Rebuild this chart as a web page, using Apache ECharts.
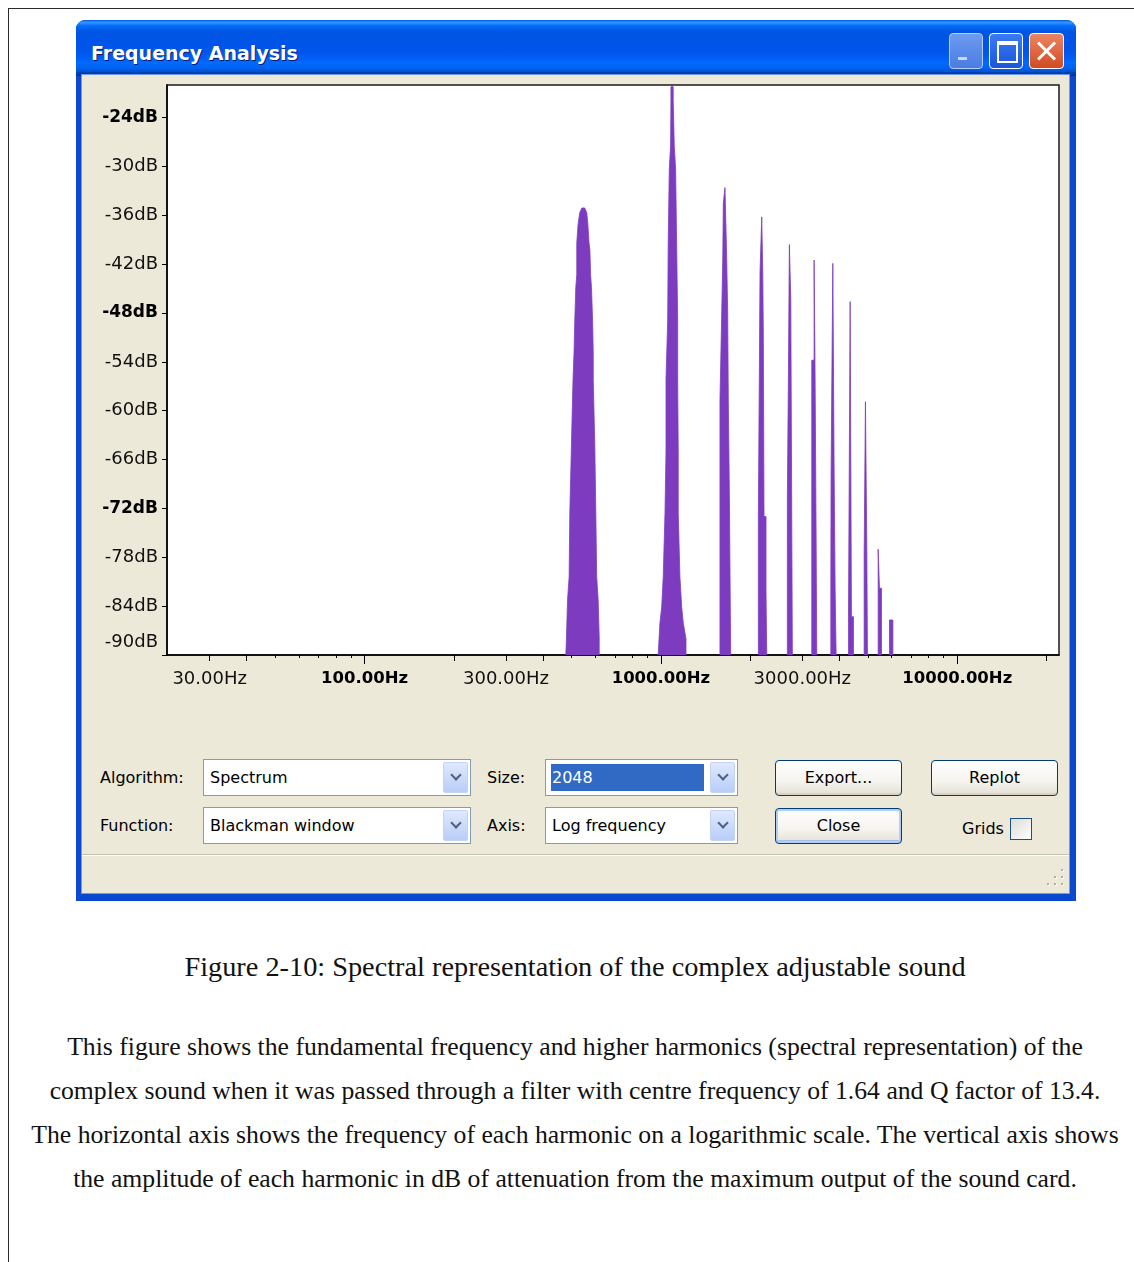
<!DOCTYPE html>
<html lang="en">
<head>
<meta charset="utf-8">
<title>Frequency Analysis</title>
<script src="https://cdn.jsdelivr.net/npm/echarts@6.0.0/dist/echarts.min.js"></script>
<style>
  html, body { margin: 0; padding: 0; background: #fff; }
  body { position: relative; width: 1134px; height: 1262px; overflow: hidden; font-family: "DejaVu Sans", sans-serif; color: #000; }
  .abs { position: absolute; }
  #frame { left: 8px; top: 8px; width: 1300px; height: 1400px; border-top: 1px solid #2b2b2b; border-left: 1px solid #2b2b2b; }
  #win { left: 76px; top: 20px; width: 1000px; height: 881px; border-radius: 9px 9px 0 0; overflow: hidden; background: #0b48d2; }
  #titlebar { left: 0; top: 0; width: 1000px; height: 56px;
    background: linear-gradient(to bottom, #0058ee 0%, #3593ff 4%, #288eff 6%, #127dff 8%, #036ffc 10%, #0262ee 14%, #0057e5 20%, #0054e3 24%, #0055eb 56%, #005bf5 66%, #026afe 76%, #0062ef 86%, #0052d6 92%, #0040ab 94%, #003092 100%); }
  #title { left: 15px; top: 21px; font: bold 19px/24px "DejaVu Sans", sans-serif; color: #fff; text-shadow: 1px 1px 0 #0a1a6a; white-space: nowrap; }
  .tbtn { position: absolute; top: 13px; width: 34px; height: 36px; box-sizing: border-box; border: 1px solid #fff; border-radius: 4px; }
  #bmin { left: 873px; background: linear-gradient(#6d9bf0, #4a7ce3); border-color: #b8cdf6; }
  #bmin i { position: absolute; left: 8px; top: 23px; width: 9px; height: 3px; background: #c9d8f8; }
  #bmax { left: 913px; background: linear-gradient(#3a7af5, #1b56da); }
  #bmax i { position: absolute; left: 7px; top: 7px; width: 17px; height: 16px; border: 2px solid #fff; border-top-width: 4px; }
  #bclose { left: 953px; width: 35px; background: linear-gradient(#ec8563, #d24a22); }
  #bclose i { position: absolute; left: 15px; top: 5px; width: 3px; height: 24px; background: #fff; }
  #bclose i.a { transform: rotate(45deg); }
  #bclose i.b { transform: rotate(-45deg); }
  #client { left: 82px; top: 75px; width: 987px; height: 818px; background: #ece9d8; box-shadow: 0 0 0 1px #6f98ee; }
  #chart { left: 0; top: 0; width: 1134px; height: 720px; z-index: 2; }
  .lbl { position: absolute; font-size: 16px; line-height: 20px; white-space: nowrap; z-index: 3; }
  .combo { position: absolute; background: #fff; border: 1px solid #7f9db9; box-sizing: border-box; z-index: 3; }
  .combo .t { position: absolute; left: 6px; top: 8px; font-size: 16px; line-height: 20px; white-space: nowrap; }
  .combo .sel { position: absolute; left: 5px; top: 4px; width: 153px; height: 27px; background: #316ac5; }
  .combo .sel span { position: absolute; left: 1px; top: 4px; color: #fff; font-size: 16px; line-height: 20px; }
  .combo .dd { position: absolute; right: 2px; top: 2px; bottom: 2px; width: 25px; box-sizing: border-box;
    background: linear-gradient(#dfe9fe, #b9cdf7); border: 1px solid #c3d3f7; border-radius: 2px; }
  .combo .dd i { position: absolute; left: 8px; top: 8px; width: 6px; height: 6px; border-right: 2px solid #4d6185; border-bottom: 2px solid #4d6185; transform: rotate(45deg); }
  .xbtn { position: absolute; width: 127px; height: 36px; box-sizing: border-box; border: 1px solid #003c74; border-radius: 4px;
    background: linear-gradient(#ffffff 0%, #f5f4ef 60%, #e4e0d4 100%); font-size: 16px; line-height: 33px; text-align: center; z-index: 3;
    box-shadow: inset 0 -2px 0 #d8d2c6; }
  .xbtn.def { box-shadow: inset 0 0 0 2px #b4cdf4, inset 0 -3px 0 #a7c1ee; }
  #chk { left: 1010px; top: 818px; width: 22px; height: 22px; box-sizing: border-box; border: 1px solid #1c5180; background: linear-gradient(135deg, #dcdcd7, #fff); z-index: 3; }
  #sep1 { left: 82px; top: 854px; width: 987px; height: 1px; background: #c5c2b2; z-index: 3; }
  #sep2 { left: 82px; top: 855px; width: 987px; height: 1px; background: #fff; z-index: 3; }
  .dot { position: absolute; width: 2px; height: 2px; background: #b3b09f; box-shadow: 1px 1px 0 #fff; z-index: 3; }
  #caption { left: 0; top: 950px; width: 1150px; text-align: center; font: 28.3px/34px "Liberation Serif", serif; color: #111; white-space: nowrap; }
  #para { left: 0; top: 1025px; width: 1150px; text-align: center; font: 25.7px/44px "Liberation Serif", serif; color: #111; white-space: nowrap; }
</style>
</head>
<body>
<div id="frame" class="abs"></div>

<div id="win" class="abs">
  <div id="titlebar" class="abs"></div>
  <div id="title" class="abs">Frequency Analysis</div>
  <div id="bmin" class="tbtn"><i></i></div>
  <div id="bmax" class="tbtn"><i></i></div>
  <div id="bclose" class="tbtn"><i class="a"></i><i class="b"></i></div>
</div>
<div id="client" class="abs"></div>

<div id="chart" class="abs"></div>

<div class="lbl" style="left:100px;top:768px">Algorithm:</div>
<div class="combo" style="left:203px;top:759px;width:268px;height:37px"><span class="t">Spectrum</span><div class="dd"><i></i></div></div>
<div class="lbl" style="left:487px;top:768px">Size:</div>
<div class="combo" style="left:545px;top:759px;width:193px;height:37px"><div class="sel"><span>2048</span></div><div class="dd"><i></i></div></div>
<div class="xbtn" style="left:775px;top:760px">Export...</div>
<div class="xbtn" style="left:931px;top:760px">Replot</div>

<div class="lbl" style="left:100px;top:816px">Function:</div>
<div class="combo" style="left:203px;top:807px;width:268px;height:37px"><span class="t">Blackman window</span><div class="dd"><i></i></div></div>
<div class="lbl" style="left:487px;top:816px">Axis:</div>
<div class="combo" style="left:545px;top:807px;width:193px;height:37px"><span class="t">Log frequency</span><div class="dd"><i></i></div></div>
<div class="xbtn def" style="left:775px;top:808px">Close</div>
<div class="lbl" style="left:962px;top:819px">Grids</div>
<div id="chk" class="abs"></div>

<div id="sep1" class="abs"></div>
<div id="sep2" class="abs"></div>
<div class="dot" style="left:1061px;top:869px"></div>
<div class="dot" style="left:1061px;top:876px"></div>
<div class="dot" style="left:1054px;top:876px"></div>
<div class="dot" style="left:1061px;top:883px"></div>
<div class="dot" style="left:1054px;top:883px"></div>
<div class="dot" style="left:1047px;top:883px"></div>

<div id="caption" class="abs">Figure 2-10: Spectral representation of the complex adjustable sound</div>
<div id="para" class="abs">This figure shows the fundamental frequency and higher harmonics (spectral representation) of the<br>complex sound when it was passed through a filter with centre frequency of 1.64 and Q factor of 13.4.<br>The horizontal axis shows the frequency of each harmonic on a logarithmic scale. The vertical axis shows<br>the amplitude of each harmonic in dB of attenuation from the maximum output of the sound card.</div>

<script>
// Frequency range: first FFT bin (44100 / 2048 Hz) up to the Nyquist frequency
const FREQ_MIN = 21.533;
const FREQ_MAX = 22050;
const DB_MIN = -90;
const DB_MAX = -20;

// Vertical axis ticks (dB)
const dbTicks = [-24, -30, -36, -42, -48, -54, -60, -66, -72, -78, -84, -90];
const dbBold = [-24, -48, -72];

// Horizontal axis labels and tick marks (Hz)
const freqLabels = [30, 100, 300, 1000, 3000, 10000];
const freqBold = [100, 1000, 10000];
const freqTicksLong = [100, 1000, 10000];
const freqTicksMid = [30, 40, 200, 300, 400, 2000, 3000, 4000, 20000];
const freqTicksShort = [50, 60, 70, 80, 90, 500, 600, 700, 800, 900, 5000, 6000, 7000, 8000, 9000];

// Spectrum outline of each harmonic: [frequency Hz, level dB]
const harmonic1 = [[477.5, -90], [480, -87.8], [484, -83.2], [490, -80.4], [492.6, -72.6], [499, -64], [505, -56.2], [509, -52.9],
  [512, -48.9], [516, -44.9], [520, -43.3], [520, -39.4], [525, -37.2], [532, -35.7], [541, -35.1], [553, -35.1], [562, -35.7],
  [567, -37.2], [572, -39.4], [576, -40.3], [579, -43.3], [583, -44.9], [588, -48.9], [591, -52.9], [591, -56.2], [598, -64],
  [603, -72.6], [607, -80.4], [614, -83.2], [619, -87.8], [619, -90]];
const harmonic2 = [[979, -90], [992, -86.1], [1006, -84.1], [1018, -80.4], [1032, -72.6], [1040, -65.2], [1040, -56.2], [1054, -48.9],
  [1058, -39.6], [1067, -30.4], [1078, -27.4], [1081, -21.8], [1081, -20.2], [1100, -20.2], [1100, -21.8], [1109, -27.4],
  [1121, -30.4], [1130, -39.6], [1139, -48.9], [1139, -56.2], [1144, -65.2], [1144, -72.6], [1159, -80.4], [1175, -84.1],
  [1185, -84.1], [1190, -86.1], [1215, -88], [1215, -90]];
const harmonic3 = [[1582, -90], [1582, -58.7], [1604, -58.7], [1604, -48], [1617, -48], [1617, -41.2], [1624, -41.2], [1624, -34.5],
  [1645, -34.5], [1645, -32.6], [1667, -32.6], [1667, -41.2], [1680, -41.2], [1680, -48], [1688, -48], [1688, -58.7],
  [1701, -58.7], [1701, -69.4], [1720, -69.4], [1720, -90]];
const harmonic4 = [[2132, -90], [2132, -73], [2160, -73], [2160, -42.9], [2189, -42.9], [2189, -36.2], [2206, -36.2], [2206, -42.9],
  [2216, -42.9], [2216, -50.5], [2228, -50.5], [2228, -73], [2263, -73], [2263, -82.4], [2276, -82.4], [2276, -90]];
const harmonic5 = [[2671, -90], [2671, -70.6], [2692, -70.6], [2692, -56.2], [2713, -56.2], [2713, -39.6], [2743, -39.6], [2743, -46.2],
  [2777, -46.2], [2777, -90]];
const harmonic6 = [[3229, -90], [3229, -53.8], [3288, -53.8], [3288, -41.5], [3314, -41.5], [3314, -56.2], [3340, -56.2], [3340, -75.5],
  [3357, -75.5], [3357, -90]];
const harmonic7 = [[3744, -90], [3744, -81.7], [3752, -81.7], [3752, -67.6], [3803, -67.6], [3803, -41.9], [3842, -41.9], [3842, -67.6],
  [3871, -67.6], [3871, -81.7], [3902, -81.7], [3902, -90]];
const harmonic8 = [[4295, -90], [4295, -85.3], [4351, -85.3], [4351, -46.6], [4395, -46.6], [4395, -85.3], [4464, -85.3], [4464, -90]];
const harmonic9 = [[4851, -90], [4851, -77.5], [4900, -77.5], [4900, -58.9], [4954, -58.9], [4954, -77.5], [4977, -77.5], [4977, -90]];
const harmonic10 = [[5409, -90], [5409, -77], [5464, -77], [5464, -81.8], [5550, -81.8], [5550, -90]];
const harmonic11 = [[5906, -90], [5906, -85.7], [6065, -85.7], [6065, -90]];

const harmonics = [harmonic1, harmonic2, harmonic3, harmonic4, harmonic5, harmonic6,
  harmonic7, harmonic8, harmonic9, harmonic10, harmonic11];

const SPECTRUM_COLOR = '#7d3cc0';
const lg = Math.log10;

// Extra bottom axes on the same grid, used only to draw ticks of different lengths
function tickAxis(values, len) {
  return {
    type: 'value', gridIndex: 0, position: 'bottom',
    min: lg(FREQ_MIN), max: lg(FREQ_MAX),
    axisLine: { show: false, onZero: false },
    axisTick: { show: true, customValues: values.map(lg), length: len, lineStyle: { color: '#000', width: 1 } },
    axisLabel: { show: false },
    splitLine: { show: false }
  };
}

const chart = echarts.init(document.getElementById('chart'), null, { renderer: 'canvas' });

const option = {
  backgroundColor: 'transparent',
  animation: false,
  grid: {
    left: 167, top: 85, width: 892, height: 570,
    show: true, backgroundColor: '#fff', borderColor: '#1a1a1a', borderWidth: 1.5,
    containLabel: false, outerBoundsMode: 'none'
  },
  xAxis: [
    { type: 'log', logBase: 10, min: FREQ_MIN, max: FREQ_MAX, show: false },
    {
      type: 'value', gridIndex: 0, position: 'bottom',
      min: lg(FREQ_MIN), max: lg(FREQ_MAX),
      axisLine: { show: true, onZero: false, lineStyle: { color: '#000', width: 1.5 } },
      axisTick: { show: true, customValues: freqTicksShort.map(lg), length: 3, lineStyle: { color: '#000', width: 1 } },
      axisLabel: {
        show: true,
        customValues: freqLabels.map(lg),
        margin: 15,
        color: '#000',
        formatter: function (v) {
          const f = Math.round(Math.pow(10, v));
          const text = f.toFixed(2) + 'Hz';
          return freqBold.indexOf(f) >= 0 ? '{b|' + text + '}' : '{n|' + text + '}';
        },
        rich: {
          n: { fontFamily: 'DejaVu Sans', fontSize: 18, color: '#111' },
          b: { fontFamily: 'DejaVu Sans', fontWeight: 'bold', fontSize: 16.5, color: '#000' }
        }
      },
      splitLine: { show: false }
    },
    tickAxis(freqTicksMid, 6),
    tickAxis(freqTicksLong, 9)
  ],
  yAxis: {
    type: 'value', min: DB_MIN, max: DB_MAX,
    axisLine: { show: true, onZero: false, lineStyle: { color: '#000', width: 1.5 } },
    axisTick: { show: true, customValues: dbTicks, length: 5, lineStyle: { color: '#000', width: 1 } },
    axisLabel: {
      customValues: dbTicks,
      margin: 9,
      color: '#000',
      formatter: function (v) {
        const text = v + 'dB';
        if (v === DB_MIN) return '{low|' + text + '}';
        return dbBold.indexOf(v) >= 0 ? '{b|' + text + '}' : '{n|' + text + '}';
      },
      rich: {
        n: { fontFamily: 'DejaVu Sans', fontSize: 18, color: '#111' },
        b: { fontFamily: 'DejaVu Sans', fontWeight: 'bold', fontSize: 17, color: '#000' },
        low: { fontFamily: 'DejaVu Sans', fontSize: 18, color: '#111', padding: [0, 0, 26, 0] }
      }
    },
    splitLine: { show: false }
  },
  series: harmonics.map(function (data, i) {
    return {
      name: 'Harmonic ' + (i + 1),
      type: 'line',
      xAxisIndex: 0,
      yAxisIndex: 0,
      data: data,
      showSymbol: false,
      symbol: 'none',
      silent: true,
      clip: true,
      lineStyle: { color: SPECTRUM_COLOR, width: 0.8 },
      areaStyle: { color: SPECTRUM_COLOR, opacity: 1, origin: 'start' }
    };
  })
};

chart.setOption(option);
</script>
</body>
</html>
